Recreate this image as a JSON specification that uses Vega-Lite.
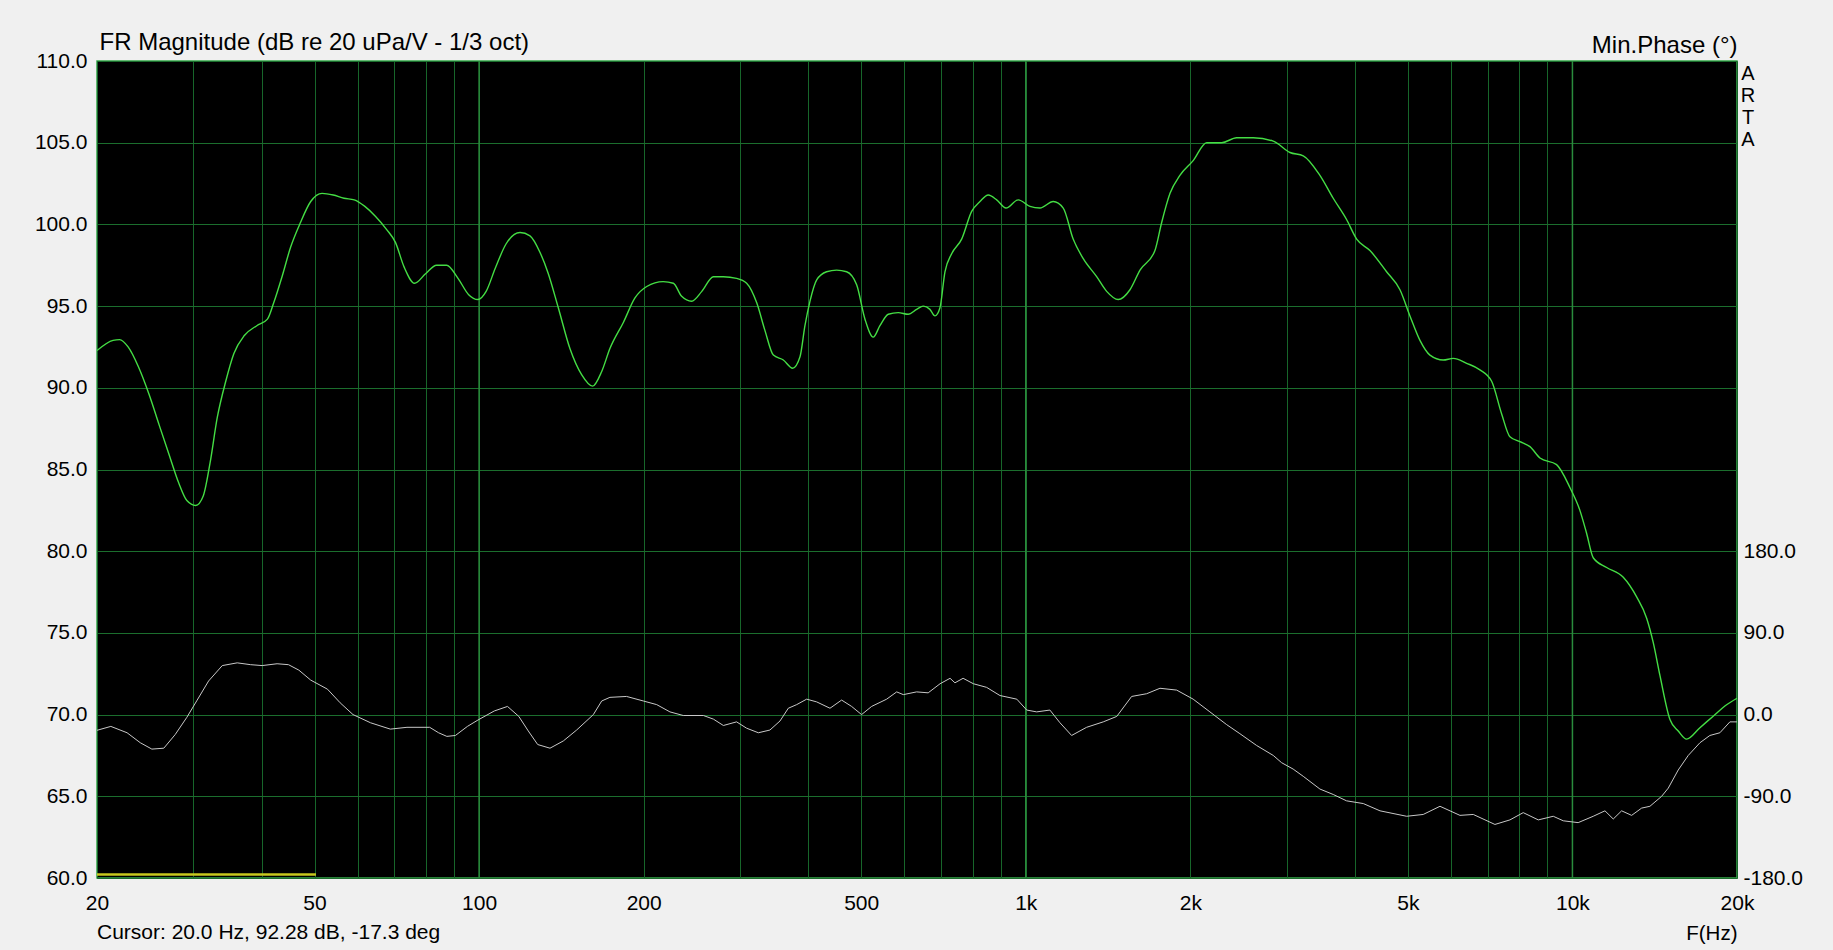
{
  "$schema": "https://vega.github.io/schema/vega-lite/v6.json",
  "width": 1640,
  "height": 817,
  "autosize": {"type": "none"},
  "padding": {"left": 97, "top": 61, "right": 96, "bottom": 72},
  "background": "#f0f0f0",
  "config": {
    "font": "Liberation Sans",
    "view": {"fill": "#000000", "stroke": "#36a84a", "strokeWidth": 1.5}
  },
  "datasets": {
    "mag": [
      {"f": 20, "db": 92.28}, {"f": 21.4, "db": 92.9}, {"f": 22, "db": 92.95}, {"f": 22.8, "db": 92.5},
      {"f": 23.8, "db": 91.3}, {"f": 24.9, "db": 89.6}, {"f": 26.0, "db": 87.7}, {"f": 27.1, "db": 85.9},
      {"f": 28.2, "db": 84.2}, {"f": 29.2, "db": 83.1}, {"f": 30.3, "db": 82.8}, {"f": 31.3, "db": 83.4},
      {"f": 32.2, "db": 85.4}, {"f": 33.2, "db": 88.2}, {"f": 34.4, "db": 90.4}, {"f": 35.6, "db": 92.1},
      {"f": 37.2, "db": 93.2}, {"f": 39.2, "db": 93.8}, {"f": 41.0, "db": 94.2}, {"f": 42.1, "db": 95.2},
      {"f": 43.6, "db": 96.8}, {"f": 45.2, "db": 98.6}, {"f": 47.1, "db": 100.1}, {"f": 49.2, "db": 101.4},
      {"f": 51.6, "db": 101.9}, {"f": 54.1, "db": 101.8}, {"f": 56.6, "db": 101.6}, {"f": 59.1, "db": 101.5},
      {"f": 61.8, "db": 101.1}, {"f": 64.6, "db": 100.5}, {"f": 67.7, "db": 99.7}, {"f": 70.3, "db": 98.9},
      {"f": 72.9, "db": 97.4}, {"f": 76.2, "db": 96.4}, {"f": 79.9, "db": 97.0}, {"f": 83.6, "db": 97.5},
      {"f": 87.2, "db": 97.5}, {"f": 91.5, "db": 96.7}, {"f": 95.7, "db": 95.7}, {"f": 99.5, "db": 95.4},
      {"f": 103, "db": 95.9}, {"f": 107, "db": 97.3}, {"f": 112, "db": 98.8}, {"f": 118.8, "db": 99.5},
      {"f": 123.9, "db": 99.3}, {"f": 129.2, "db": 98.3}, {"f": 133.8, "db": 97.0}, {"f": 139.6, "db": 94.9},
      {"f": 146.6, "db": 92.4}, {"f": 154.0, "db": 90.8}, {"f": 161.3, "db": 90.1}, {"f": 167.6, "db": 91.0},
      {"f": 173.5, "db": 92.4}, {"f": 183.6, "db": 94.0}, {"f": 192.8, "db": 95.5}, {"f": 202.6, "db": 96.2},
      {"f": 217.1, "db": 96.5}, {"f": 226.6, "db": 96.4}, {"f": 234.7, "db": 95.6}, {"f": 244.8, "db": 95.3},
      {"f": 255.5, "db": 95.9}, {"f": 268.3, "db": 96.8}, {"f": 279.8, "db": 96.8}, {"f": 295.8, "db": 96.7},
      {"f": 308.6, "db": 96.4}, {"f": 322.0, "db": 95.2}, {"f": 333.4, "db": 93.5}, {"f": 345.4, "db": 92.0},
      {"f": 360.2, "db": 91.7}, {"f": 374.6, "db": 91.2}, {"f": 386.4, "db": 91.9}, {"f": 394.5, "db": 93.8},
      {"f": 403.0, "db": 95.3}, {"f": 414.5, "db": 96.6}, {"f": 432.2, "db": 97.1}, {"f": 450.8, "db": 97.2},
      {"f": 470.2, "db": 97.1}, {"f": 490.5, "db": 96.3}, {"f": 508.0, "db": 94.2}, {"f": 526.0, "db": 93.1},
      {"f": 541.0, "db": 93.8}, {"f": 560.4, "db": 94.5}, {"f": 584.4, "db": 94.6}, {"f": 609.5, "db": 94.5},
      {"f": 631.4, "db": 94.8}, {"f": 649.3, "db": 95.0}, {"f": 667.8, "db": 94.8}, {"f": 682.2, "db": 94.4},
      {"f": 696.7, "db": 94.9}, {"f": 711.5, "db": 97.1}, {"f": 731.8, "db": 98.2}, {"f": 763.3, "db": 99.1},
      {"f": 796.2, "db": 100.8}, {"f": 824.6, "db": 101.4}, {"f": 853.9, "db": 101.8}, {"f": 884.8, "db": 101.5},
      {"f": 920.0, "db": 101.0}, {"f": 968.9, "db": 101.5}, {"f": 1017.8, "db": 101.1}, {"f": 1061.6, "db": 101.0},
      {"f": 1122.6, "db": 101.4}, {"f": 1171, "db": 101.0}, {"f": 1221, "db": 99.1}, {"f": 1274, "db": 97.9},
      {"f": 1348, "db": 96.8}, {"f": 1406, "db": 95.9}, {"f": 1476, "db": 95.4}, {"f": 1551, "db": 96.0},
      {"f": 1618, "db": 97.2}, {"f": 1723, "db": 98.4}, {"f": 1772, "db": 100.1}, {"f": 1836, "db": 101.9},
      {"f": 1914, "db": 103.0}, {"f": 2024, "db": 103.9}, {"f": 2142, "db": 105.0}, {"f": 2282, "db": 105.0},
      {"f": 2431, "db": 105.3}, {"f": 2607, "db": 105.3}, {"f": 2836, "db": 105.1}, {"f": 3043, "db": 104.4},
      {"f": 3218, "db": 104.2}, {"f": 3452, "db": 103.0}, {"f": 3651, "db": 101.6}, {"f": 3862, "db": 100.3},
      {"f": 4030, "db": 99.1}, {"f": 4262, "db": 98.4}, {"f": 4571, "db": 97.1}, {"f": 4836, "db": 96.0},
      {"f": 5044, "db": 94.4}, {"f": 5261, "db": 92.9}, {"f": 5487, "db": 92.0}, {"f": 5803, "db": 91.7},
      {"f": 6053, "db": 91.8}, {"f": 6404, "db": 91.5}, {"f": 6772, "db": 91.1}, {"f": 7115, "db": 90.4},
      {"f": 7422, "db": 88.4}, {"f": 7686, "db": 87.0}, {"f": 8017, "db": 86.7}, {"f": 8362, "db": 86.4},
      {"f": 8722, "db": 85.7}, {"f": 9354, "db": 85.3}, {"f": 9893, "db": 83.9}, {"f": 10319, "db": 82.5},
      {"f": 10614, "db": 81.1}, {"f": 10915, "db": 79.6}, {"f": 11550, "db": 79.0}, {"f": 12388, "db": 78.4},
      {"f": 13106, "db": 77.2}, {"f": 13670, "db": 75.9}, {"f": 14056, "db": 74.4}, {"f": 14456, "db": 72.4},
      {"f": 15079, "db": 69.7}, {"f": 15615, "db": 69.0}, {"f": 16176, "db": 68.5}, {"f": 17110, "db": 69.2},
      {"f": 18090, "db": 69.9}, {"f": 19144, "db": 70.6}, {"f": 20000, "db": 71.0}
    ],
    "phase": [
      {"f": 20, "deg": -17.3}, {"f": 21.2, "deg": -13}, {"f": 22.7, "deg": -20}, {"f": 24.0, "deg": -31},
      {"f": 25.2, "deg": -38}, {"f": 26.5, "deg": -37}, {"f": 27.8, "deg": -22}, {"f": 29.2, "deg": -3},
      {"f": 30.5, "deg": 16}, {"f": 32.0, "deg": 37}, {"f": 33.9, "deg": 54}, {"f": 36.1, "deg": 57},
      {"f": 38.2, "deg": 55}, {"f": 40.1, "deg": 54}, {"f": 42.7, "deg": 56}, {"f": 44.8, "deg": 55},
      {"f": 46.8, "deg": 49}, {"f": 49.2, "deg": 38}, {"f": 52.8, "deg": 28}, {"f": 55.7, "deg": 13},
      {"f": 58.8, "deg": 0}, {"f": 63.3, "deg": -9}, {"f": 68.8, "deg": -16}, {"f": 73.8, "deg": -14},
      {"f": 81.2, "deg": -14}, {"f": 84.3, "deg": -20}, {"f": 87.3, "deg": -24}, {"f": 90.5, "deg": -23},
      {"f": 95.2, "deg": -13}, {"f": 99.5, "deg": -6}, {"f": 106.6, "deg": 4}, {"f": 112.7, "deg": 9},
      {"f": 118.2, "deg": -2}, {"f": 123, "deg": -18}, {"f": 128, "deg": -33}, {"f": 134.8, "deg": -37},
      {"f": 142.6, "deg": -29}, {"f": 150.8, "deg": -17}, {"f": 161.8, "deg": 0}, {"f": 167.6, "deg": 15},
      {"f": 173.5, "deg": 19}, {"f": 186.1, "deg": 20}, {"f": 199.7, "deg": 15}, {"f": 211.3, "deg": 11},
      {"f": 223.4, "deg": 3}, {"f": 236.3, "deg": -1}, {"f": 257.2, "deg": -1}, {"f": 268.3, "deg": -5},
      {"f": 279.8, "deg": -12}, {"f": 295.8, "deg": -8}, {"f": 308.6, "deg": -15}, {"f": 324.2, "deg": -20},
      {"f": 340.4, "deg": -17}, {"f": 355.2, "deg": -7}, {"f": 367.8, "deg": 7}, {"f": 381.0, "deg": 11},
      {"f": 397.4, "deg": 17}, {"f": 414.5, "deg": 14}, {"f": 438.4, "deg": 7}, {"f": 460.4, "deg": 16},
      {"f": 480.2, "deg": 9}, {"f": 500.8, "deg": 0}, {"f": 522.4, "deg": 9}, {"f": 556.6, "deg": 17},
      {"f": 580.6, "deg": 25}, {"f": 597, "deg": 22}, {"f": 631.4, "deg": 25}, {"f": 663, "deg": 24},
      {"f": 697, "deg": 34}, {"f": 727, "deg": 40}, {"f": 742, "deg": 35}, {"f": 768, "deg": 40},
      {"f": 802, "deg": 34}, {"f": 848, "deg": 30}, {"f": 897, "deg": 21}, {"f": 963, "deg": 17},
      {"f": 1004, "deg": 5}, {"f": 1047, "deg": 3}, {"f": 1107, "deg": 5}, {"f": 1155, "deg": -9},
      {"f": 1213, "deg": -23}, {"f": 1292, "deg": -14}, {"f": 1386, "deg": -8}, {"f": 1467, "deg": -2},
      {"f": 1562, "deg": 20}, {"f": 1664, "deg": 23}, {"f": 1760, "deg": 29}, {"f": 1888, "deg": 27},
      {"f": 2024, "deg": 17}, {"f": 2172, "deg": 3}, {"f": 2330, "deg": -11}, {"f": 2464, "deg": -21},
      {"f": 2644, "deg": -34}, {"f": 2836, "deg": -45}, {"f": 2938, "deg": -53}, {"f": 3084, "deg": -60},
      {"f": 3218, "deg": -68}, {"f": 3452, "deg": -82}, {"f": 3651, "deg": -88}, {"f": 3862, "deg": -95},
      {"f": 4144, "deg": -98}, {"f": 4446, "deg": -106}, {"f": 4973, "deg": -112}, {"f": 5334, "deg": -110},
      {"f": 5724, "deg": -101}, {"f": 6227, "deg": -111}, {"f": 6586, "deg": -110}, {"f": 7214, "deg": -121},
      {"f": 7686, "deg": -116}, {"f": 8128, "deg": -108}, {"f": 8660, "deg": -116}, {"f": 9224, "deg": -112},
      {"f": 9622, "deg": -117}, {"f": 10245, "deg": -119}, {"f": 10915, "deg": -112}, {"f": 11468, "deg": -106},
      {"f": 11876, "deg": -115}, {"f": 12302, "deg": -106}, {"f": 12832, "deg": -111}, {"f": 13384, "deg": -103},
      {"f": 13860, "deg": -101}, {"f": 14560, "deg": -90}, {"f": 14972, "deg": -81}, {"f": 15615, "deg": -61},
      {"f": 16288, "deg": -45}, {"f": 17110, "deg": -31}, {"f": 17840, "deg": -23}, {"f": 18610, "deg": -20},
      {"f": 19410, "deg": -8}, {"f": 20000, "deg": -8}
    ],
    "major": [{"f": 100}, {"f": 1000}, {"f": 10000}]
  },
  "layer": [
    {
      "data": {"name": "major"},
      "mark": {"type": "rule", "color": "#2a8c3c", "strokeWidth": 1.5},
      "encoding": {
        "x": {"field": "f", "type": "quantitative"}
      }
    },
    {
      "data": {"name": "mag"},
      "mark": {"type": "line", "color": "#44dd44", "strokeWidth": 1.4, "interpolate": "monotone", "clip": true},
      "encoding": {
        "x": {
          "field": "f", "type": "quantitative",
          "scale": {"type": "log", "domain": [20, 20000], "nice": false},
          "axis": {
            "values": [20, 30, 40, 50, 60, 70, 80, 90, 100, 200, 300, 400, 500, 600, 700, 800, 900, 1000, 2000, 3000, 4000, 5000, 6000, 7000, 8000, 9000, 10000, 20000],
            "labelExpr": "(datum.value == 20 || datum.value == 50 || datum.value == 100 || datum.value == 200 || datum.value == 500) ? ('' + datum.value) : ((datum.value == 1000 || datum.value == 2000 || datum.value == 5000 || datum.value == 10000 || datum.value == 20000) ? ((datum.value / 1000) + 'k') : '')",
            "domain": false, "ticks": false, "tickSize": 0,
            "labelFont": "Liberation Sans", "labelFontSize": 21, "labelColor": "#000000",
            "labelBaseline": "alphabetic", "labelPadding": 31,
            "labelFlush": false, "labelOverlap": false, "labelBound": false,
            "grid": true, "gridColor": "#17662a", "gridWidth": 1,
            "title": "F(Hz)", "titleFont": "Liberation Sans", "titleFontSize": 20.5, "titleFontWeight": "normal", "titleColor": "#000000",
            "titleAlign": "right", "titleBaseline": "alphabetic", "titleX": 1640, "titleY": 61
          }
        },
        "y": {
          "field": "db", "type": "quantitative",
          "scale": {"domain": [60, 110], "nice": false, "zero": false},
          "axis": {
            "values": [60, 65, 70, 75, 80, 85, 90, 95, 100, 105, 110],
            "format": ".1f",
            "domain": false, "ticks": false, "tickSize": 0,
            "labelFont": "Liberation Sans", "labelFontSize": 21, "labelColor": "#000000", "labelPadding": 10,
            "labelOverlap": false, "labelBound": false,
            "grid": true, "gridColor": "#1b6e2d", "gridWidth": 1,
            "title": "FR Magnitude (dB re 20 uPa/V - 1/3 oct)", "titleFont": "Liberation Sans", "titleFontSize": 24,
            "titleFontWeight": "normal", "titleColor": "#000000", "titleAngle": 0, "titleAlign": "left",
            "titleBaseline": "alphabetic", "titleX": 2, "titleY": -11.5
          }
        }
      }
    },
    {
      "data": {"values": [{"label": "window"}]},
      "mark": {"type": "rule", "color": "#c8c81e", "strokeWidth": 2.5},
      "encoding": {
        "x": {"datum": 20, "type": "quantitative"},
        "x2": {"datum": 50.3},
        "y": {"datum": 60.22, "type": "quantitative", "axis": null, "scale": {"domain": [60, 110], "nice": false, "zero": false}}
      }
    },
    {
      "data": {"values": [{"label": "ARTA"}]},
      "mark": {"type": "text", "align": "center", "baseline": "alphabetic", "fontSize": 20, "font": "Liberation Sans", "color": "#000000", "lineHeight": 22.3, "dx": 11, "dy": 18.5, "clip": false},
      "encoding": {
        "x": {"datum": 20000, "type": "quantitative"},
        "y": {"datum": 110, "type": "quantitative", "axis": null, "scale": {"domain": [60, 110], "nice": false, "zero": false}},
        "text": {"value": ["A", "R", "T", "A"]}
      }
    },
    {
      "data": {"values": [{"label": "Cursor: 20.0 Hz, 92.28 dB, -17.3 deg"}]},
      "mark": {"type": "text", "align": "left", "baseline": "alphabetic", "fontSize": 21, "font": "Liberation Sans", "color": "#000000", "dx": 0, "dy": 61, "clip": false},
      "encoding": {
        "x": {"datum": 20, "type": "quantitative"},
        "y": {"datum": 60, "type": "quantitative", "axis": null, "scale": {"domain": [60, 110], "nice": false, "zero": false}},
        "text": {"field": "label", "type": "nominal"}
      }
    },
    {
      "data": {"name": "phase"},
      "mark": {"type": "line", "color": "#c8c8c8", "strokeWidth": 1, "interpolate": "linear", "clip": true},
      "encoding": {
        "x": {"field": "f", "type": "quantitative"},
        "y": {
          "field": "deg", "type": "quantitative",
          "scale": {"domain": [-180, 720], "nice": false, "zero": false},
          "axis": {
            "orient": "right",
            "values": [-180, -90, 0, 90, 180],
            "labelExpr": "(datum.value < 0 ? '-' : '') + format(abs(datum.value), '.1f')",
            "domain": false, "ticks": false, "tickSize": 0, "grid": false,
            "labelFont": "Liberation Sans", "labelFontSize": 21, "labelColor": "#000000", "labelPadding": 6,
            "labelOverlap": false, "labelBound": false, "labelFlush": false,
            "title": "Min.Phase (°)", "titleFont": "Liberation Sans", "titleFontSize": 24, "titleFontWeight": "normal",
            "titleColor": "#000000", "titleAngle": 0, "titleAlign": "right", "titleBaseline": "alphabetic",
            "titleX": 0, "titleY": -9
          }
        }
      }
    }
  ],
  "resolve": {"scale": {"y": "independent"}, "axis": {"y": "independent"}}
}
